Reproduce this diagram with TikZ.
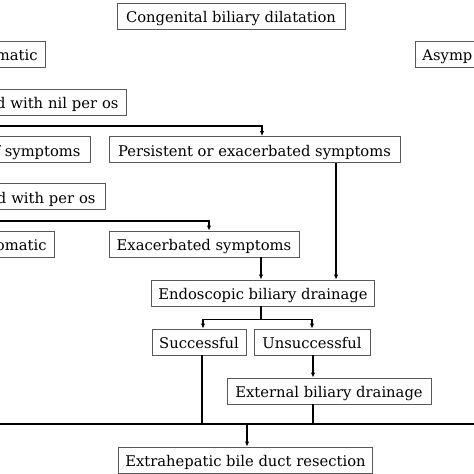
\documentclass[tikz,border=0pt]{standalone}
\usepackage{fontspec}
\setmainfont{DejaVu Serif}
\usetikzlibrary{arrows.meta}
\begin{document}
\begin{tikzpicture}[x=1bp,y=-1bp,
  box/.style={draw=black!65, line width=0.9bp, minimum height=26bp, inner xsep=7bp, inner ysep=0pt,
    font=\fontsize{14.8}{17}\selectfont, text height=13.4bp, text depth=0pt},
  cutbox/.style={box, anchor=east, text width=160bp, align=right, inner xsep=#1},
  conn/.style={line width=1.5bp},
  arr/.style={conn, -{Latex[length=5bp,width=4.5bp]}}]
\useasboundingbox (0,0) rectangle (474,474);
\clip (0,0) rectangle (474,474);
\node[box, minimum width=228bp] (cbd) at (231,16) {Congenital biliary dilatation};
\node[cutbox=8bp] (sym) at (46,54) {matic};
\node[box, anchor=west, text width=90bp, align=left] (asy1) at (415,54) {Asymp};
\node[cutbox=8bp] (nil) at (127,102) {d with nil per os};
\node[cutbox=10bp] (imp) at (91,149.5) {f symptoms};
\node[box, minimum width=291bp] (pers) at (254.5,149.5) {Persistent or exacerbated symptoms};
\node[cutbox=10bp] (po) at (106,196.5) {d with per os};
\node[cutbox=8bp] (asy2) at (55,244) {omatic};
\node[box, minimum width=190bp] (exac) at (204,244) {Exacerbated symptoms};
\node[box, minimum width=222bp] (endo) at (263,293) {Endoscopic biliary drainage};
\node[box, minimum width=94bp] (succ) at (199,342) {Successful};
\node[box, minimum width=116bp] (uns) at (312,342) {Unsuccessful};
\node[box, minimum width=204bp] (ext) at (329,391) {External biliary drainage};
\node[box, minimum width=253bp] (ehb) at (245.5,460) {Extrahepatic bile duct resection};
\coordinate (l1) at (-5,126);
\coordinate (l2) at (-5,221);
\coordinate (bl) at (-5,424);
\coordinate (br) at (480,424);
\draw[arr] (l1) -| ([xshift=7.5bp]pers.north);
\draw[arr] ([xshift=81.5bp]pers.south) -- ([xshift=81.5bp]pers.south |- endo.north);
\draw[arr] (l2) -| ([xshift=5bp]exac.north);
\draw[arr] ([xshift=-2bp]endo.north |- exac.south) -- ([xshift=-2bp]endo.north);
\draw[conn] ([xshift=-2bp]endo.south) -- ++(0,13) coordinate (sp);
\draw[arr] (sp) -| ([xshift=4bp]succ.north);
\draw[arr] (sp) -| (uns.north);
\draw[conn] (bl) -- (br);
\draw[conn] ([xshift=3bp]succ.south) -- ([xshift=3bp]succ.south |- bl);
\draw[arr] ([xshift=1bp]uns.south) -- ([xshift=1bp]uns.south |- ext.north);
\draw[conn] ([xshift=1bp]uns.south |- ext.south) -- ([xshift=1bp]uns.south |- bl);
\draw[arr] ([xshift=1.5bp]ehb.north |- bl) -- ([xshift=1.5bp]ehb.north);
\end{tikzpicture}
\end{document}
